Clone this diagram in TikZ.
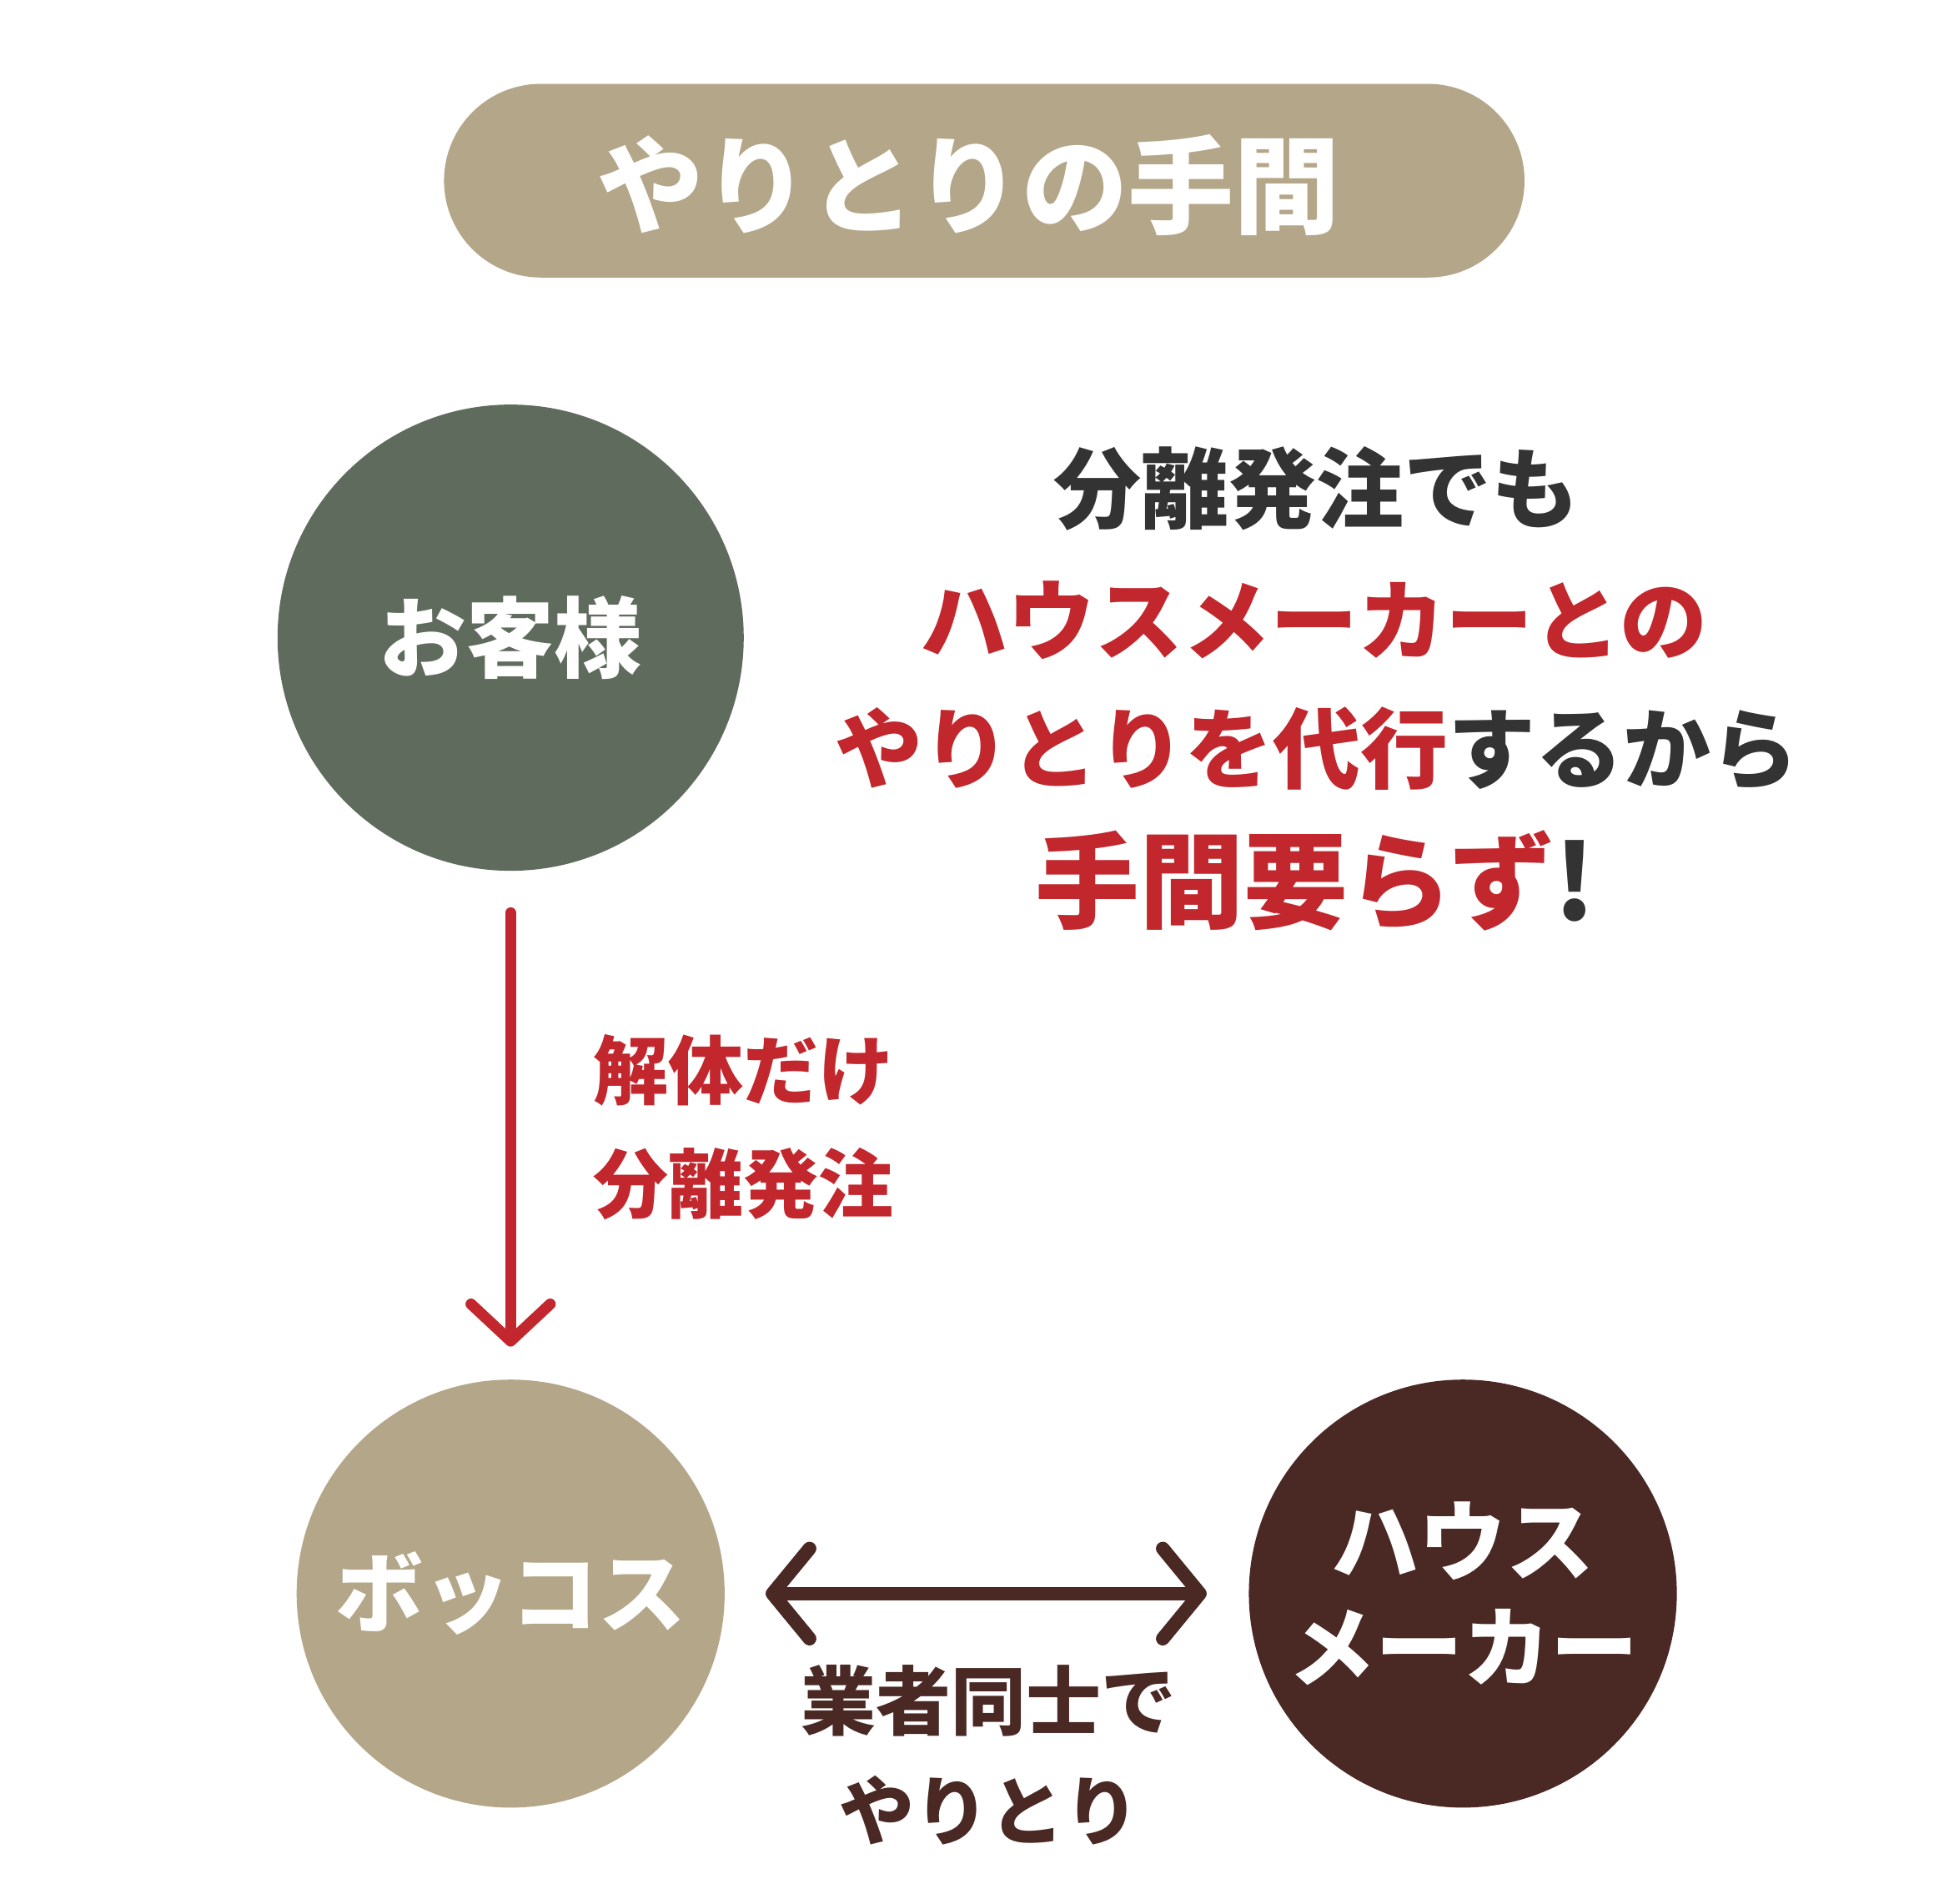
\documentclass[tikz,border=0pt]{standalone}
\usepackage{fontspec}
\newfontfamily\jp{Noto Sans CJK JP}
\usetikzlibrary{arrows.meta}
\definecolor{tan}{HTML}{B4A688}
\definecolor{sage}{HTML}{5F6B5D}
\definecolor{myred}{HTML}{C1272D}
\definecolor{darktxt}{HTML}{333333}
\definecolor{brown}{HTML}{4A2823}
\tikzset{
  txt/.style={inner sep=0pt, font=\jp\bfseries\fontsize{#1}{#1}\selectfont},
  circ/.style={circle, inner sep=0pt, text=white, align=center},
  vbarb/.tip={Straight Barb[length=22.2pt, width=47.5pt, round]},
  hbarb/.tip={Straight Barb[length=22.2pt, width=54pt, round]},
  conn/.style={line cap=round, line join=round}
}
\begin{document}
\begin{tikzpicture}[x=0.7395pt,y=-0.7395pt]
\fill[white] (0,0) rectangle (1568,1543.6);
\useasboundingbox (0,0) rectangle (1568,1543.6);
% title pill
\node[fill=tan, rounded corners=58pt, minimum width=647.8pt, minimum height=116.1pt, inner sep=0pt] (pill) at (798,146.5) {};
\node[txt=63.6, text=white, anchor=base west] (title) at (484,183) {やりとりの手間};
% circles
\node[circ, fill=sage, minimum size=279.5pt, txt=52.5, text=white] (kyaku) at (414,517) {お客様};
\node[circ, fill=tan, minimum size=256.6pt, txt=52.5, text=white] (bokkos) at (414,1292) {ボッコス};
\node[circ, fill=brown, minimum size=256.6pt, font=\jp\bfseries\fontsize{52.5}{63.5}\selectfont, text=white] (maker) at (1186,1292) {ハウス\\メーカー};
% right text
\node[txt=52.5, text=darktxt, anchor=base west] (l1) at (854,423) {分離発注でも};
\node[txt=52.5, text=myred, anchor=base west] (l2) at (746,530) {ハウスメーカーとの};
\node[txt=52.5, anchor=base west] (l3) at (677,634) {\textcolor{myred}{やりとりを代行}\textcolor{darktxt}{するから}};
\node[txt=62.5, anchor=base west] (l4) at (839,746) {\textcolor{myred}{手間要らず}\textcolor{darktxt}{!}};
% arrow labels
\node[txt=45, text=myred, anchor=base west] (lab1) at (481,891) {解体だけ};
\node[txt=45, text=myred, anchor=base west] (lab2) at (481,983) {分離発注};
\node[txt=45, text=brown, anchor=base west] (lab3) at (649,1402) {業者同士で};
\node[txt=45, text=brown, anchor=base west] (lab4) at (680,1491) {やりとり};
% connectors
\draw[conn, line width=6.6pt, myred, -{vbarb}, shorten <=25pt, shorten >=19.6pt] (kyaku.south) -- (bokkos.north);
\draw[conn, line width=8.2pt, brown, {hbarb}-{hbarb}, shorten <=24.4pt, shorten >=25.1pt] (bokkos.east) -- (maker.west);
\end{tikzpicture}
\end{document}
